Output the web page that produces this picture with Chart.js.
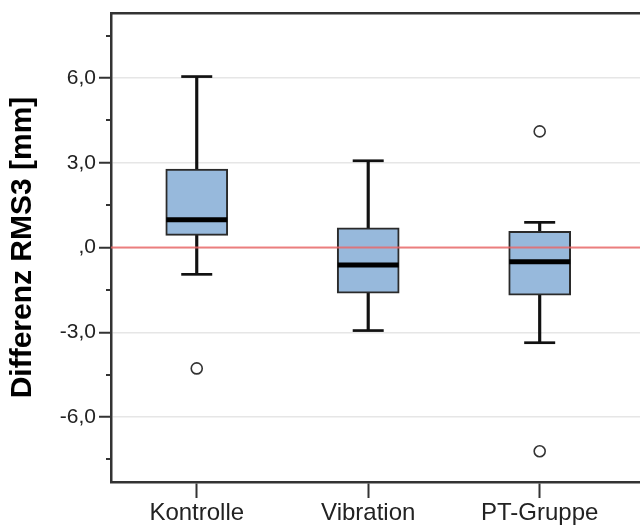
<!DOCTYPE html>
<html>
<head>
<meta charset="utf-8">
<script src="https://cdn.jsdelivr.net/npm/chart.js@4.4.1/dist/chart.umd.min.js"></script>
<style>
html,body{margin:0;padding:0;background:#fff;overflow:hidden;}
#wrap{width:640px;height:531px;position:relative;}
</style>
</head>
<body>
<div id="wrap"><canvas id="c" width="640" height="531"></canvas></div>
<script>
// ---- data ----
const categories   = ['Kontrolle', 'Vibration', 'PT-Gruppe'];
const whiskerLow   = [-0.95, -2.94, -3.37];
const quartile1    = [0.43, -1.62, -1.69];
const medians      = [0.98, -0.62, -0.50];
const quartile3    = [2.78, 0.70, 0.57];
const whiskerHigh  = [6.05, 3.07, 0.89];
const outliers     = [[-4.28], [], [4.11, -7.21]];
const yMajorTicks  = [-6, -3, 0, 3, 6];
const yMinorTicks  = [-7.5, -4.5, -1.5, 1.5, 4.5, 7.5];
const referenceY   = 0;
const yTitle       = 'Differenz RMS3 [mm]';

const xMin = 0.5, xMax = 3.585, yMin = -8.3, yMax = 8.3;

const pos = categories.map((_, i) => i + 1);
const boxData = pos.map((x, i) => ({x, y: [quartile1[i], quartile3[i]]}));
const whiskerData = pos.map((x, i) => ({x, y: [whiskerLow[i], whiskerHigh[i]]}));
const capData = [];
pos.forEach((x, i) => { capData.push({x, y: whiskerLow[i]}); capData.push({x, y: whiskerHigh[i]}); });
const medianData = pos.map((x, i) => ({x, y: medians[i]}));
const outlierData = [];
outliers.forEach((arr, i) => arr.forEach(v => outlierData.push({x: pos[i], y: v})));

const fmt = v => {
  if (v === 0) return ',0';
  return v.toFixed(1).replace('.', ',');
};

const minorTickPlugin = {
  id: 'minorTicks',
  afterDraw(chart) {
    const y = chart.scales.y, ctx = chart.ctx, left = chart.chartArea.left;
    ctx.save();
    ctx.strokeStyle = '#333';
    ctx.lineWidth = 2;
    yMinorTicks.forEach(v => {
      const py = Math.round(y.getPixelForValue(v));
      ctx.beginPath();
      ctx.moveTo(left - 5, py);
      ctx.lineTo(left, py);
      ctx.stroke();
    });
    ctx.restore();
  }
};

new Chart(document.getElementById('c'), {
  type: 'bar',
  data: {
    datasets: [
      { // reference line
        type: 'line',
        data: [{x: xMin, y: referenceY}, {x: xMax, y: referenceY}],
        borderColor: 'rgba(236,100,100,0.8)',
        borderWidth: 2,
        pointRadius: 0,
        order: 0
      },
      { // medians
        type: 'scatter',
        data: medianData,
        pointStyle: 'line',
        pointRadius: 30.5,
        borderColor: '#000',
        borderWidth: 5,
        order: 1
      },
      { // boxes
        type: 'bar',
        data: boxData,
        backgroundColor: '#97b9dc',
        borderColor: '#2a2a2a',
        borderWidth: 2,
        borderSkipped: false,
        barThickness: 62,
        grouped: false,
        order: 2
      },
      { // caps
        type: 'scatter',
        data: capData,
        pointStyle: 'line',
        pointRadius: 15.5,
        borderColor: '#111',
        borderWidth: 2.7,
        order: 3
      },
      { // whisker stems
        type: 'bar',
        data: whiskerData,
        backgroundColor: '#111',
        borderWidth: 0,
        barThickness: 2.5,
        grouped: false,
        order: 4
      },
      { // outliers
        type: 'scatter',
        data: outlierData,
        pointStyle: 'circle',
        pointRadius: 5.5,
        backgroundColor: '#fff',
        borderColor: '#333',
        borderWidth: 1.6,
        order: 0
      }
    ]
  },
  options: {
    responsive: false,
    animation: false,
    events: [],
    layout: { autoPadding: false, padding: { top: 13, left: 0, right: 0, bottom: 0 } },
    plugins: { legend: { display: false }, tooltip: { enabled: false } },
    scales: {
      x: {
        type: 'linear',
        offset: false,
        min: xMin, max: xMax,
        afterBuildTicks: s => { s.ticks = pos.map(v => ({value: v})); },
        afterFit: s => { s.height = 49; s.paddingLeft = 0; s.paddingRight = 0; },
        ticks: {
          callback: v => categories[v - 1],
          font: {family: 'Liberation Sans, Arial, sans-serif', size: 24},
          color: '#222',
          padding: 1,
          maxRotation: 0,
          autoSkip: false
        },
        grid: { offset: false, drawOnChartArea: false, tickLength: 16, tickWidth: 2, tickColor: '#333' },
        border: { color: '#333', width: 2.5 }
      },
      x2: {
        type: 'linear',
        position: 'top',
        offset: false,
        min: xMin, max: xMax,
        ticks: { display: false },
        grid: { display: false, drawTicks: false },
        border: { display: true, color: '#333', width: 2.5 },
        afterFit: s => { s.height = 0; s.paddingLeft = 0; s.paddingRight = 0; }
      },
      y: {
        min: yMin, max: yMax,
        afterBuildTicks: s => { s.ticks = yMajorTicks.map(v => ({value: v})); },
        afterFit: s => { s.width = 111; s.paddingTop = 0; s.paddingBottom = 0; },
        ticks: {
          callback: v => fmt(v),
          font: {family: 'Liberation Sans, Arial, sans-serif', size: 21},
          color: '#222',
          padding: 3
        },
        grid: { color: '#e6e6e6', lineWidth: 1.5, tickLength: 12, tickWidth: 2, tickColor: '#333' },
        border: { color: '#333', width: 2.5 },
        title: {
          display: true,
          text: yTitle,
          font: {family: 'Liberation Sans, Arial, sans-serif', size: 30, weight: 'bold'},
          color: '#000',
          padding: {top: 5, bottom: 0}
        }
      }
    }
  },
  plugins: [minorTickPlugin]
});
</script>
</body>
</html>
